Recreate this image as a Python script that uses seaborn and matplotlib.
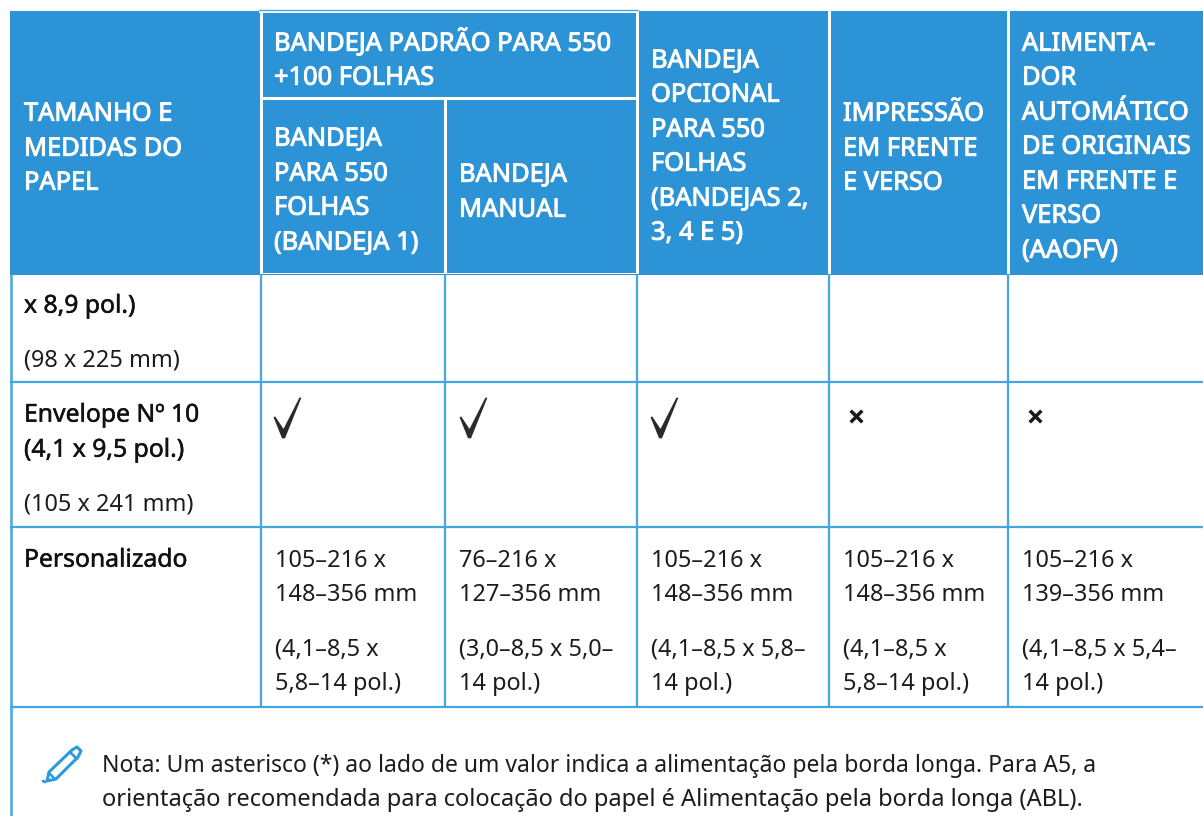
import matplotlib
matplotlib.use("Agg")
import matplotlib.pyplot as plt
import matplotlib.patheffects as pe
from matplotlib.patches import Rectangle, Polygon
from matplotlib.path import Path
import pandas as pd
import seaborn as sns

# Contenu du tableau
header_size = ["TAMANHO E", "MEDIDAS DO", "PAPEL"]
header_std = ["BANDEJA PADRÃO PARA 550", "+100 FOLHAS"]
header_t1 = ["BANDEJA", "PARA 550", "FOLHAS", "(BANDEJA 1)"]
header_manual = ["BANDEJA", "MANUAL"]
header_opt = ["BANDEJA", "OPCIONAL", "PARA 550", "FOLHAS", "(BANDEJAS 2,", "3, 4 E 5)"]
header_duplex = ["IMPRESSÃO", "EM FRENTE", "E VERSO"]
header_adf = ["ALIMENTA-", "DOR", "AUTOMÁTICO", "DE ORIGINAIS", "EM FRENTE E", "VERSO", "(AAOFV)"]

row1_name = "x 8,9 pol.)"
row1_mm = "(98 x 225 mm)"
row2_name = ["Envelope Nº 10", "(4,1 x 9,5 pol.)"]
row2_mm = "(105 x 241 mm)"
row2_marks = ["sim", "sim", "sim", "não", "não"]
row3_name = "Personalizado"
custom_mm = [["105–216 x", "148–356 mm"], ["76–216 x", "127–356 mm"], ["105–216 x", "148–356 mm"],
             ["105–216 x", "148–356 mm"], ["105–216 x", "139–356 mm"]]
custom_in = [["(4,1–8,5 x", "5,8–14 pol.)"], ["(3,0–8,5 x 5,0–", "14 pol.)"], ["(4,1–8,5 x 5,8–", "14 pol.)"],
             ["(4,1–8,5 x", "5,8–14 pol.)"], ["(4,1–8,5 x 5,4–", "14 pol.)"]]
note = ["Nota: Um asterisco (*) ao lado de um valor indica a alimentação pela borda longa. Para A5, a",
        "orientação recomendada para colocação do papel é Alimentação pela borda longa (ABL)."]

BLUE = "#2b93d6"
LINE = "#45a5e0"
INK = "#1c1c1c"
HEAD_FS = 18.3
BODY_FS = 16.9
NAME_FS = 17.8

sns.set_theme(style="white")
plt.rcParams["font.family"] = ["Noto Sans", "DejaVu Sans"]

fig = plt.figure(figsize=(12.03, 8.16), dpi=100)
ax = fig.add_axes([0, 0, 1, 1])
ax.set_xlim(0, 1203)
ax.set_ylim(816, 0)
ax.axis("off")

# Grille
col_x = [261, 445, 637, 829, 1008]
text_x = [275, 459, 651, 843, 1022]
for x in col_x:
    ax.plot([x, x], [274, 706], color=LINE, lw=1.6, solid_capstyle="butt")
ax.plot([10.5, 10.5], [274, 816], color=LINE, lw=1.8, solid_capstyle="butt")
for y in [381.5, 526.5, 706.5]:
    ax.plot([10, 1203], [y, y], color=LINE, lw=1.6, solid_capstyle="butt")

# En-tête
ax.add_patch(Rectangle((10, 11), 1193, 263.5, color=BLUE, lw=0))
ax.add_patch(Rectangle((259, 0), 380, 12.8, color="white", lw=0))
ax.plot([259, 638], [9.5, 9.5], color=LINE, lw=1.0)
for x in [261, 637, 829, 1008]:
    ax.add_patch(Rectangle((x - 1.5, 11), 3, 263, color="white", lw=0))
ax.add_patch(Rectangle((443.5, 98), 3, 176, color="white", lw=0))
ax.add_patch(Rectangle((261, 97), 376, 3, color="white", lw=0))
ax.add_patch(Rectangle((261, 272.5), 376, 1.5, color="white", lw=0))


def lines(x, baselines, texts, **kw):
    for y, t in zip(baselines, texts):
        ax.text(x, y + 0.7, t, va="baseline", ha="left", **kw)


# Noto Sans n'a ici qu'une graisse : on épaissit avec un contour
head = dict(color="white", fontsize=HEAD_FS,
            path_effects=[pe.withStroke(linewidth=0.7, foreground="white")])
lines(24, [120, 155, 189], header_size, **head)
lines(274, [50, 84], header_std, **head)
lines(274, [145, 180, 214, 249], header_t1, **head)
lines(459, [181, 216], header_manual, **head)
lines(651, [67, 101, 136, 170, 205, 239], header_opt, **head)
lines(843, [120, 155, 189], header_duplex, **head)
lines(1022, [50, 84, 119, 153, 188, 222, 257], header_adf, **head)

# Corps
body = dict(color=INK, fontsize=BODY_FS)
name = dict(color="#111111", fontsize=NAME_FS,
            path_effects=[pe.withStroke(linewidth=0.35, foreground="#111111")])
lines(24, [312], [row1_name], **name)
lines(24, [366], [row1_mm], **body)
lines(24, [421, 456], row2_name, **name)
lines(24, [510], [row2_mm], **body)
lines(24, [566], [row3_name], **name)
for x, mm, pol in zip(text_x, custom_mm, custom_in):
    lines(x, [566, 600], mm, **body)
    lines(x, [655, 689], pol, **body)
ax.text(102, 771.7, note[0], color=INK, fontsize=16.5, va="baseline")
ax.text(102, 805.7, note[1], color=INK, fontsize=17.0, va="baseline")

# Coches et croix
check = Path([(-14, 0), (-12.5, 1.2), (-4, -11.5), (12, 20), (14, 20), (-2.5, -21), (-5.5, -21), (-14, 0)], closed=True)
marks = pd.DataFrame({"x": [287, 473, 664, 856, 1035], "y": [417, 417, 417, 416, 416], "etat": row2_marks})
sim = marks[marks["etat"] == "sim"]
nao = marks[marks["etat"] == "não"]
sns.scatterplot(data=sim, x="x", y="y", marker=check, s=900, color="#2a2a2a", linewidth=0, ax=ax, legend=False)
sns.scatterplot(data=nao, x="x", y="y", marker="x", s=70, color="#1a1a1a", linewidth=2.5, ax=ax, legend=False)
ax.set_xlabel("")
ax.set_ylabel("")
ax.set_xlim(0, 1203)
ax.set_ylim(816, 0)

# Crayon de la note
pen = [(49, 772), (72, 750), (77, 747), (81, 751), (78, 757), (56, 779), (47, 781)]
ax.add_patch(Polygon(pen, closed=True, fill=False, edgecolor="#2a9bdc", lw=2.2, joinstyle="round"))
ax.plot([70, 77], [752, 759], color="#2a9bdc", lw=2)
ax.plot([49, 55], [773, 779], color="#2a9bdc", lw=1.8)
ax.plot([43, 45], [781, 782], color="#2a9bdc", lw=2)

fig.savefig("out.png", dpi=100)
